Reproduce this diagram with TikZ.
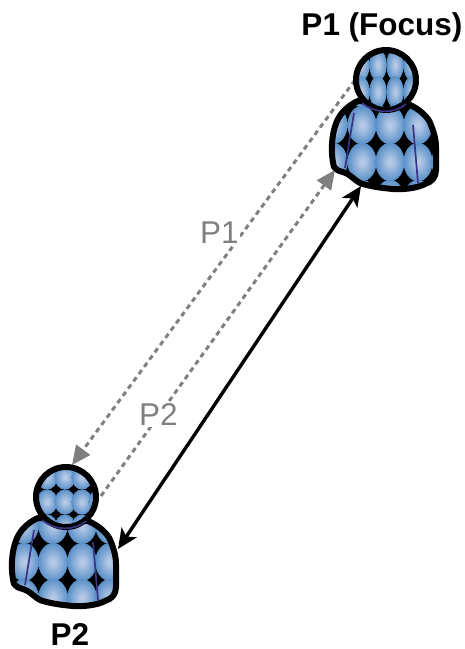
\documentclass[tikz,border=0pt]{standalone}
\usepackage{fontspec}
\setmainfont{Liberation Sans}
\usetikzlibrary{arrows.meta}
\definecolor{blueedge}{HTML}{4584C2}
\definecolor{bluecore}{HTML}{BCCDE8}
\definecolor{foldc}{HTML}{3B3385}
\definecolor{grayc}{HTML}{808080}
\pgfdeclareradialshading{ballb}{\pgfpoint{0bp}{0bp}}{color(0bp)=(bluecore); color(6bp)=(bluecore!85!blueedge); color(30bp)=(blueedge); color(100bp)=(blueedge)}
\tikzset{
  x=1pt,y=-1pt,
  outline/.style={line width=6pt,line join=round,black},
  fold/.style={line width=1.7pt,foldc},
  cell/.style={shading=ballb},
  grayarrow/.style={grayc,line width=3pt,dash pattern=on 5pt off 4pt,
     -{Triangle[length=19pt,width=17pt,sep=0pt]}},
  blackarrow/.style={black,line width=3.4pt,
     {Stealth[length=20pt,width=18pt,inset=5pt]}-{Stealth[length=20pt,width=18pt,inset=5pt]}},
  graylabel/.style={font=\fontsize{31.5}{32}\selectfont,text=grayc,fill=white,inner sep=1pt},
  namelabel/.style={font=\fontsize{31.5}{32}\selectfont\bfseries,text=black,inner sep=0pt,text depth=0pt},
}
\newcommand{\bodypath}{(-52,87) .. controls (-56,72) and (-55,46) .. (-44,33)
  .. controls (-39,27) and (-33,23) .. (-28,21) -- (22,24)
  .. controls (34,29) and (43,38) .. (45,45)
  .. controls (49,55) and (50,62) .. (50,67)
  -- (50,90) .. controls (50,97) and (46,102) .. (39,104)
  .. controls (34,107) and (20,110) .. (7,109)
  .. controls (-5,108) and (-18,106) .. (-26,103)
  .. controls (-33,99) and (-36,94) .. (-43,92)
  .. controls (-47,91) and (-50,90) .. (-52,87) -- cycle}
% #1 shift; #2,#3 head x,y lists; #4,#5 head radii; #6,#7 body x,y lists; #8,#9 body radii
\newcommand{\person}[9]{%
  \begin{scope}[shift={#1}]
    \begin{scope}
      \clip \bodypath;
      \fill[black] (-70,0) rectangle (70,120);
      \foreach \cx in {#6} \foreach \cy in {#7}
        \shade[cell] (\cx,\cy) ellipse [x radius=#8pt,y radius=#9pt];
    \end{scope}
    \draw[outline] \bodypath;
    \draw[fold] (-32,33) -- (-41,88);
    \draw[fold] (27,45) -- (32,103);
    \begin{scope}
      \clip (0,0) circle [radius=30pt];
      \fill[black] (-40,-40) rectangle (40,40);
      \foreach \cx in {#2} \foreach \cy in {#3}
        \shade[cell] (\cx,\cy) ellipse [x radius=#4pt,y radius=#5pt];
    \end{scope}
    \draw[outline] (0,0) circle [radius=30pt];
    \draw[fold] (-24,23) .. controls (-10,34) and (8,34) .. (20,24);
  \end{scope}}
\begin{document}
\begin{tikzpicture}
\useasboundingbox (0,0) rectangle (465,649);
\coordinate (p1head) at (386,80);
\coordinate (p2head) at (66,497);
\coordinate (p1tail) at (355,80);
\coordinate (p2tip) at (72,465);
\coordinate (p2tail) at (101,496);
\coordinate (p1tip) at (335,170);
\coordinate (p1near) at (361,186);
\coordinate (p2near) at (118,549);
\draw[grayarrow] (p1tail) -- (p2tip);
\draw[grayarrow] (p2tail) -- (p1tip);
\draw[blackarrow] (p1near) -- (p2near);
\node[graylabel] (lp1) at (219.5,232.5) {P1};
\node[graylabel] (lp2) at (158.5,414.5) {P2};
\person{(p1head)}{-42,-25,-8,9,26,43}{-42,-15,12,39}{8.6}{16}{-53,-24,4,32,60}{8,45,82,119}{14.5}{19.2}
\person{(p2head)}{-36,-19,-1,16,33}{-45,-20,5,30}{10.5}{12.6}{-42,-13,16,44}{-9,28,65,101}{14.8}{19}
\node[namelabel] (n1) at (382,24) {P1 (Focus)};
\node[namelabel] (n2) at (70,634) {P2};
\end{tikzpicture}
\end{document}
